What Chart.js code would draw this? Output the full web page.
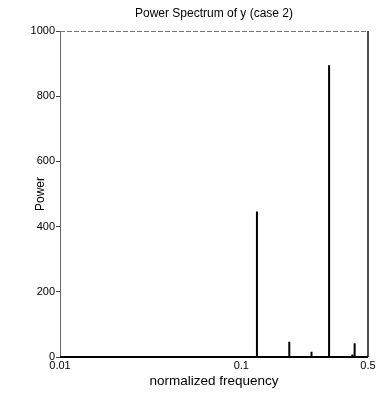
<!DOCTYPE html>
<html>
<head>
<meta charset="utf-8">
<script src="https://cdn.jsdelivr.net/npm/chart.js@4.4.1/dist/chart.umd.min.js"></script>
<style>
html,body{margin:0;padding:0;background:#fff;}
#c{display:block;}
</style>
</head>
<body>
<canvas id="c" width="379" height="399"></canvas>
<script>
// Data
const spikeFreqs  = [0.084, 0.1, 0.122, 0.184, 0.244, 0.305, 0.41, 0.422];
const spikePowers = [2, 3, 446, 47, 16, 895, 8, 42];
const freqRange   = [0.01, 0.5];
const xTicks      = [0.01, 0.1, 0.5];
const xTickLabels = ['0.01', '0.1', '0.5'];
const yTicks      = [0, 200, 400, 600, 800, 1000];

// Build a line trace: baseline at zero with vertical spikes
const trace = [{x: freqRange[0], y: 0}];
spikeFreqs.forEach((f, i) => {
  trace.push({x: f, y: 0});
  trace.push({x: f, y: spikePowers[i]});
  trace.push({x: f, y: 0});
});
trace.push({x: freqRange[1], y: 0});

const frame = {
  id: 'frame',
  afterDatasetsDraw(chart) {
    const {ctx, chartArea: a} = chart;
    ctx.save();
    // top border (dashed grey)
    ctx.strokeStyle = '#777';
    ctx.lineWidth = 1;
    ctx.setLineDash([5, 2]);
    ctx.beginPath();
    ctx.moveTo(a.left, a.top + 0.5);
    ctx.lineTo(a.right, a.top + 0.5);
    ctx.stroke();
    // right border (solid black)
    ctx.setLineDash([]);
    ctx.strokeStyle = '#111';
    ctx.lineWidth = 1.5;
    ctx.beginPath();
    ctx.moveTo(a.right, a.top);
    ctx.lineTo(a.right, a.bottom);
    ctx.stroke();
    ctx.restore();
  }
};

new Chart(document.getElementById('c'), {
  type: 'line',
  data: {
    datasets: [{
      data: trace,
      borderColor: '#000',
      borderWidth: 2,
      pointRadius: 0,
      tension: 0,
      fill: false,
      clip: false
    }]
  },
  options: {
    responsive: false,
    animation: false,
    devicePixelRatio: 1,
    layout: {padding: {left: 0, right: 11, top: 0, bottom: 0}},
    plugins: {
      legend: {display: false},
      tooltip: {enabled: false},
      title: {
        display: true,
        text: 'Power Spectrum of y (case 2)',
        color: '#000',
        fullSize: false,
        font: {family: 'Liberation Sans, Arial, sans-serif', size: 12, weight: 'normal', lineHeight: 1.2},
        padding: {top: 6, bottom: 10.6}
      }
    },
    scales: {
      x: {
        type: 'logarithmic',
        min: freqRange[0],
        max: freqRange[1],
        afterBuildTicks: (s) => { s.ticks = xTicks.map(v => ({value: v})); },
        afterFit: (s) => { s.height = 42; },
        ticks: {
          autoSkip: false,
          maxRotation: 0,
          color: '#000',
          padding: 0,
          font: {family: 'Liberation Sans, Arial, sans-serif', size: 11},
          callback: (v, i) => xTickLabels[i]
        },
        grid: {display: true, drawOnChartArea: false, drawTicks: true, tickLength: 2, tickColor: 'rgba(0,0,0,0)'},
        border: {display: false},
        title: {
          display: true,
          text: 'normalized frequency',
          color: '#000',
          font: {family: 'Liberation Sans, Arial, sans-serif', size: 13.5},
          padding: {top: 0, bottom: 10}
        }
      },
      y: {
        min: 0,
        max: 1000,
        afterBuildTicks: (s) => { s.ticks = yTicks.map(v => ({value: v})); },
        afterFit: (s) => { s.width = 60; },
        ticks: {
          color: '#000',
          padding: 1,
          font: {family: 'Liberation Sans, Arial, sans-serif', size: 11},
          callback: (v) => String(v)
        },
        grid: {display: true, drawOnChartArea: false, drawTicks: true, tickLength: 4, tickColor: '#444'},
        border: {display: true, color: '#666', width: 1, dash: [6, 2]},
        title: {
          display: true,
          text: 'Power',
          color: '#000',
          font: {family: 'Liberation Sans, Arial, sans-serif', size: 12},
          padding: {top: 33, bottom: 0}
        }
      }
    }
  },
  plugins: [frame]
});
</script>
</body>
</html>
